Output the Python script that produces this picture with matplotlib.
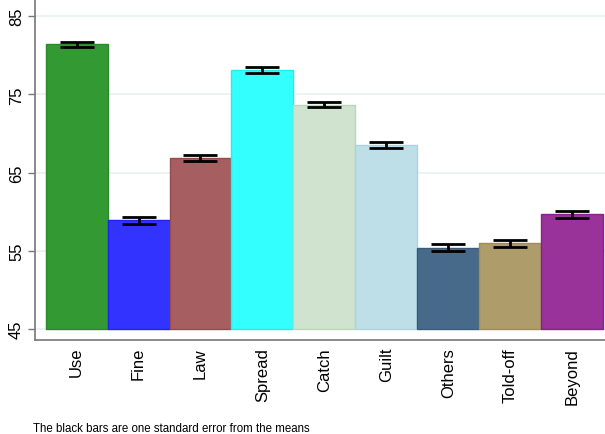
import matplotlib.pyplot as plt
import numpy as np

plt.rcParams['font.family'] = ['Liberation Sans', 'DejaVu Sans']

labels = ['Use', 'Fine', 'Law', 'Spread', 'Catch', 'Guilt', 'Others', 'Told-off', 'Beyond']
means = [81.4, 58.9, 66.9, 78.15, 73.7, 68.55, 55.4, 55.95, 59.65]
se = [0.36, 0.45, 0.4, 0.38, 0.35, 0.4, 0.43, 0.43, 0.45]
colors = ['#339933', '#3333ff', '#a65e60', '#33ffff', '#cfe3cf',
          '#bedfe8', '#476a8a', '#ae9d6a', '#993399']
edges = ['#2a8a2a', '#2222ee', '#944c4e', '#22eeee', '#bcd6bc',
         '#aed3de', '#3a5c7c', '#9e8d5a', '#882288']

fig = plt.figure(figsize=(6.05, 4.35), dpi=100)
ax = fig.add_axes([0.058, 0.216, 0.942, 0.784])

x = np.arange(len(labels))
base = 45
heights = [m - base for m in means]
ax.bar(x, heights, bottom=base, width=1.0, color=colors, edgecolor=edges,
       linewidth=1, zorder=2)
ax.errorbar(x, means, yerr=se, fmt='none', ecolor='black', elinewidth=2,
            capsize=12.5, capthick=2, zorder=3)

ax.set_ylim(43.6, 87.2)
ax.set_xlim(-0.67, 8.53)
ax.set_yticks([45, 55, 65, 75, 85])
ax.set_yticklabels(['45', '55', '65', '75', '85'], rotation=90, va='center',
                   fontsize=12)
ax.set_xticks(x)
ax.set_xticklabels(labels, rotation=90, fontsize=12)
ax.tick_params(axis='x', length=0, pad=5)
ax.tick_params(axis='y', length=5, color='#777777', width=1, pad=3)
ax.grid(axis='y', color='#e8f1f2', linewidth=1.2, zorder=0)

for s in ['top', 'right']:
    ax.spines[s].set_visible(False)
for s in ['left', 'bottom']:
    ax.spines[s].set_color('#777777')
    ax.spines[s].set_linewidth(1.2)

fig.text(0.055, 0.008, 'The black bars are one standard error from the means',
         fontsize=8.3)

fig.savefig('out.png', dpi=100)
